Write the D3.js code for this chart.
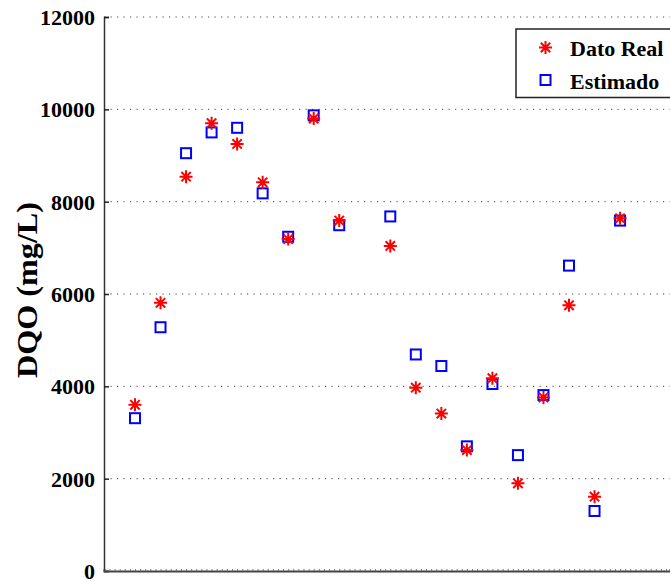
<!DOCTYPE html>
<html>
<head>
<meta charset="utf-8">
<script src="https://cdn.jsdelivr.net/npm/d3@7"></script>
<style>
  body { margin: 0; background: #fff; }
  svg { display: block; font-family: "Liberation Serif", "Times New Roman", serif; font-weight: bold; }
</style>
</head>
<body>
<div id="chart"></div>
<script>
// sample number (10 has no point in the figure)
const samples = [1, 2, 3, 4, 5, 6, 7, 8, 9, 11, 12, 13, 14, 15, 16, 17, 18, 19, 20];
const datoReal = [3600, 5810, 8540, 9700, 9250, 8420, 7190, 9800, 7590, 7040, 3970, 3410, 2620, 4175, 1900, 3760, 5755, 1610, 7640];
const estimado = [3310, 5280, 9050, 9500, 9600, 8180, 7240, 9870, 7490, 7680, 4690, 4440, 2700, 4050, 2510, 3810, 6615, 1300, 7590];
const yTicks = [0, 2000, 4000, 6000, 8000, 10000, 12000];
const seriesNames = ["Dato Real", "Estimado"];

const W = 670, H = 582;
const margin = {top: 17, right: 0, bottom: 11, left: 104};
const width = W - margin.left - margin.right,
      height = H - margin.top - margin.bottom;

const svg = d3.select("#chart").append("svg")
    .attr("width", W)
    .attr("height", H);

const g = svg.append("g").attr("transform", `translate(${margin.left},${margin.top})`);

const x = d3.scaleLinear().domain([-0.214, 21.956]).range([0, width]);
const y = d3.scaleLinear().domain([0, 12000]).range([height, 0]);

// dotted grid
g.append("g")
  .selectAll("line")
  .data(yTicks.filter(d => d > 0))
  .enter().append("line")
  .attr("x1", 0).attr("x2", width)
  .attr("y1", d => y(d)).attr("y2", d => y(d))
  .attr("stroke", "#444")
  .attr("stroke-width", 1)
  .attr("stroke-dasharray", "1.2 5.3");

// left axis, ticks pointing inward
const yAxis = g.append("g")
  .call(d3.axisLeft(y).tickValues(yTicks).tickSize(-5).tickPadding(9).tickFormat(d3.format("d")));
yAxis.select(".domain").attr("stroke", "#333").attr("stroke-width", 1.5);
yAxis.selectAll(".tick line").attr("stroke", "#222").attr("stroke-width", 1.5);
yAxis.selectAll("text")
  .attr("font-size", 22)
  .attr("font-family", "Liberation Serif, serif")
  .attr("font-weight", "bold")
  .attr("fill", "#000")
  .attr("dy", "0.34em");

// bottom axis with small minor ticks, no labels
const xAxis = g.append("g")
  .attr("transform", `translate(0,${height})`)
  .call(d3.axisBottom(x).tickValues(d3.range(0, 22, 0.2)).tickSize(-2).tickFormat(""));
xAxis.select(".domain").attr("stroke", "#444").attr("stroke-width", 2);
xAxis.selectAll(".tick line").attr("stroke", "#777").attr("stroke-width", 1);

// y label
svg.append("text")
  .attr("transform", `translate(37,${290}) rotate(-90)`)
  .attr("text-anchor", "middle")
  .attr("font-size", 30)
  .attr("textLength", 176)
  .attr("lengthAdjust", "spacingAndGlyphs")
  .text("DQO (mg/L)");

const starPath = (s) => {
  const r = s / 2, d = r * 0.72;
  return `M0,${-r}L0,${r}M${-r},0L${r},0M${-d},${-d}L${d},${d}M${-d},${d}L${d},${-d}`;
};
const sq = 10;

const pts = samples.map((s, i) => ({s: s, real: datoReal[i], est: estimado[i]}));

// estimated: blue squares
g.append("g").selectAll("rect")
  .data(pts)
  .enter().append("rect")
  .attr("x", d => x(d.s) - sq / 2)
  .attr("y", d => y(d.est) - sq / 2)
  .attr("width", sq).attr("height", sq)
  .attr("fill", "none")
  .attr("stroke", "#0000ff")
  .attr("stroke-width", 2);

// real data: red asterisks
g.append("g").selectAll("path")
  .data(pts)
  .enter().append("path")
  .attr("transform", d => `translate(${x(d.s)},${y(d.real)})`)
  .attr("d", starPath(13))
  .attr("stroke", "#ff0000")
  .attr("stroke-width", 2)
  .attr("fill", "none");

// legend
const lg = svg.append("g").attr("transform", "translate(516,29)");
lg.append("rect")
  .attr("x", 0).attr("y", 0)
  .attr("width", 160).attr("height", 68.5)
  .attr("fill", "#fff")
  .attr("stroke", "#222")
  .attr("stroke-width", 1.5);
lg.append("path")
  .attr("transform", "translate(29.5,18.5)")
  .attr("d", starPath(13))
  .attr("stroke", "#ff0000").attr("stroke-width", 2).attr("fill", "none");
lg.append("rect")
  .attr("x", 29.5 - sq / 2).attr("y", 51 - sq / 2)
  .attr("width", sq).attr("height", sq)
  .attr("fill", "none").attr("stroke", "#0000ff").attr("stroke-width", 2);
lg.selectAll("text.lab")
  .data(seriesNames)
  .enter().append("text")
  .attr("class", "lab")
  .attr("x", 54)
  .attr("y", (d, i) => 27 + i * 32.5)
  .attr("font-size", 22)
  .text(d => d);
</script>
</body>
</html>
